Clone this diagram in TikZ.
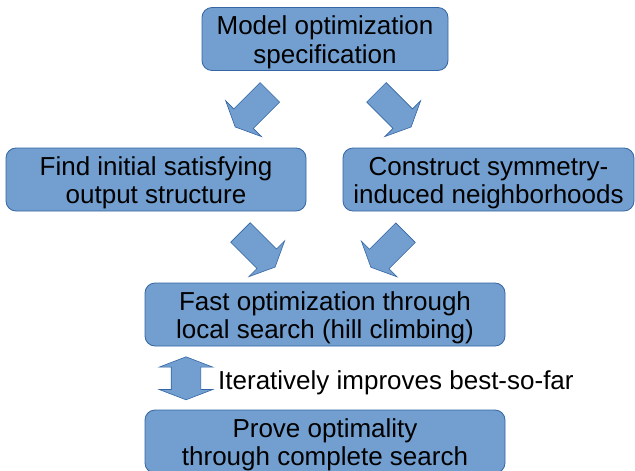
\documentclass[tikz,border=0pt]{standalone}
\usepackage{fontspec}
\setmainfont{Liberation Sans}
\usetikzlibrary{shapes.arrows}

\definecolor{boxfill}{RGB}{114,159,207}
\definecolor{boxline}{RGB}{52,101,164}

\tikzset{
  stepbox/.style={draw=boxline, line width=0.8pt, fill=boxfill, rounded corners=10pt,
    align=center, minimum height=63pt, inner sep=0pt, text height=53.5pt, text depth=5.5pt,
    font=\fontsize{26}{28.5}\selectfont},
  flowarrow/.style={single arrow, draw=boxline, line width=0.6pt, fill=boxfill,
    inner xsep=0pt, inner ysep=13.5pt, minimum height=49pt,
    single arrow head extend=11.5pt, single arrow tip angle=130},
  loopArrow/.style={double arrow, draw=boxline, line width=0.6pt, fill=boxfill,
    inner xsep=0pt, inner ysep=14.5pt, minimum height=43pt,
    double arrow head extend=12pt, double arrow tip angle=138}
}

\begin{document}
\begin{tikzpicture}[x=1pt,y=1pt]
\useasboundingbox (0,0) rectangle (635,-471);
\node [stepbox, minimum width=246pt] (spec) at (325,-39) {Model optimization\\specification};
\node [stepbox, minimum width=300pt] (init) at (156,-179.5) {Find initial satisfying\\output structure};
\node [stepbox, minimum width=291pt] (nbhd) at (488.5,-179.5) {Construct symmetry-\\induced neighborhoods};
\node [stepbox, minimum width=360pt] (local) at (325,-314.5) {Fast optimization through\\local search (hill climbing)};
\node [stepbox, minimum width=360pt] (prove) at (325,-441.5) {Prove optimality\\through complete search};
\node [flowarrow, rotate=225] (a1) at (254.8,-107.4) {};
\node [flowarrow, rotate=-45] (a2) at (391.5,-107.4) {};
\node [flowarrow, rotate=-45] (a3) at (255.5,-247.5) {};
\node [flowarrow, rotate=225] (a4) at (390.5,-247.7) {};
\node [loopArrow, rotate=90] (dbl) at (186,-378.3) {};
\node [anchor=base west, inner sep=0pt, font=\fontsize{26}{27.5}\selectfont] (note) at (218,-389) {Iteratively improves best-so-far};
\end{tikzpicture}
\end{document}
